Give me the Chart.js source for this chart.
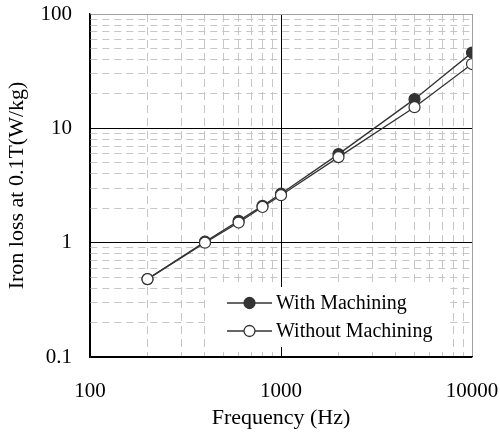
<!DOCTYPE html>
<html>
<head>
<meta charset="utf-8">
<script src="https://cdn.jsdelivr.net/npm/chart.js@4.4.1/dist/chart.umd.min.js"></script>
<style>
	html, body { margin: 0; padding: 0; background: #fff; }
	#wrap { width: 500px; height: 435px; }
</style>
</head>
<body>
<div id="wrap"><canvas id="chart"></canvas></div>
<script>
// data
const freqs = [200, 400, 600, 800, 1000, 2000, 5000, 10000];
const withMachining = [0.48, 1.02, 1.55, 2.1, 2.68, 5.95, 18, 46];
const withoutMachining = [0.48, 1.0, 1.5, 2.05, 2.6, 5.6, 15.3, 36.5];

// axis decades + minor steps
const xMajor = [100, 1000, 10000];
const yMajor = [0.1, 1, 10, 100];
const minorSteps = [2, 3, 4, 5, 6, 7, 8, 9];

const serif = '"Liberation Serif", "Times New Roman", serif';
const ink = '#333333';

// build decade + minor ticks for a log axis
function logTicks(majors) {
	const out = [];
	majors.forEach((m, i) => {
		out.push({ value: m, major: true });
		if (i < majors.length - 1) minorSteps.forEach(s => out.push({ value: m * s, major: false }));
	});
	return out;
}

const isMajor = (v, majors) => majors.some(m => Math.abs(v - m) / m < 1e-6);

function gridColor(ctx, majors) {
	const v = ctx.tick ? ctx.tick.value : null;
	if (v === null) return 'transparent';
	if (Math.abs(v - majors[majors.length - 1]) / v < 1e-6) return '#a0a0a0'; // far edge is grey
	return isMajor(v, majors) ? '#000' : '#c6c6c6';
}

// legend drawn inside the plot, white box behind
const innerLegend = {
	id: 'innerLegend',
	afterDatasetsDraw(chart) {
		const { ctx, chartArea } = chart;
		const x0 = chartArea.left + 137;
		const y0 = chartArea.top + 289;
		ctx.save();
		ctx.fillStyle = '#fff';
		ctx.fillRect(x0 - 22, y0 - 16, 245, 60);
		ctx.font = '20px ' + serif;
		ctx.textBaseline = 'middle';
		chart.data.datasets.forEach((ds, i) => {
			const y = y0 + i * 28;
			ctx.strokeStyle = ds.borderColor;
			ctx.lineWidth = 1.3;
			ctx.beginPath();
			ctx.moveTo(x0, y);
			ctx.lineTo(x0 + 45, y);
			ctx.stroke();
			ctx.beginPath();
			ctx.arc(x0 + 22.5, y, 5.5, 0, Math.PI * 2);
			ctx.fillStyle = ds.pointBackgroundColor;
			ctx.fill();
			ctx.strokeStyle = ds.pointBorderColor;
			ctx.stroke();
			ctx.fillStyle = '#000';
			ctx.fillText(ds.label, x0 + 49, y + 1);
		});
		ctx.restore();
	}
};

new Chart(document.getElementById('chart'), {
	type: 'line',
	data: {
		datasets: [{
			label: 'With Machining',
			data: freqs.map((f, i) => ({ x: f, y: withMachining[i] })),
			borderColor: ink,
			borderWidth: 1.3,
			pointRadius: 5.5,
			pointBackgroundColor: ink,
			pointBorderColor: ink,
			pointBorderWidth: 1.2,
			order: 1
		}, {
			label: 'Without Machining',
			data: freqs.map((f, i) => ({ x: f, y: withoutMachining[i] })),
			borderColor: ink,
			borderWidth: 1.3,
			pointRadius: 5.5,
			pointBackgroundColor: '#fff',
			pointBorderColor: ink,
			pointBorderWidth: 1.2,
			order: 0
		}]
	},
	options: {
		responsive: true,
		maintainAspectRatio: false,
		animation: false,
		layout: { padding: { left: 2, right: 28, top: 14, bottom: 4 } },
		plugins: { legend: { display: false }, tooltip: { enabled: false } },
		elements: { line: { tension: 0 } },
		scales: {
			x: {
				type: 'logarithmic',
				min: 100,
				max: 10000,
				afterBuildTicks: s => { s.ticks = logTicks(xMajor); },
				afterFit: s => { s.height = 74; },
				ticks: {
					autoSkip: false,
					maxRotation: 0,
					padding: 0,
					color: '#000',
					font: { family: serif, size: 21 },
					callback: v => isMajor(v, xMajor) ? String(v) : ''
				},
				grid: {
					drawTicks: true,
					tickLength: 22,
					tickColor: 'transparent',
					lineWidth: 1,
					color: c => gridColor(c, xMajor)
				},
				border: {
					color: '#000',
					width: 1.3,
					dash: c => (c.tick && !isMajor(c.tick.value, xMajor)) ? [8, 5] : []
				},
				title: {
					display: true,
					text: 'Frequency (Hz)',
					color: '#000',
					font: { family: serif, size: 22 },
					padding: { top: 1, bottom: 0 }
				}
			},
			y: {
				type: 'logarithmic',
				min: 0.1,
				max: 100,
				afterBuildTicks: s => { s.ticks = logTicks(yMajor); },
				afterFit: s => { s.width = 88; },
				ticks: {
					autoSkip: false,
					padding: 0,
					color: '#000',
					font: { family: serif, size: 21 },
					callback: v => isMajor(v, yMajor) ? String(v) : ''
				},
				grid: {
					drawTicks: true,
					tickLength: 18,
					tickColor: 'transparent',
					lineWidth: 1,
					color: c => gridColor(c, yMajor)
				},
				border: {
					color: '#000',
					width: 1.3,
					dash: c => (c.tick && !isMajor(c.tick.value, yMajor)) ? [7, 5] : []
				},
				title: {
					display: true,
					text: 'Iron loss at 0.1T(W/kg)',
					color: '#000',
					font: { family: serif, size: 22 },
					padding: { top: 2, bottom: 0 }
				}
			}
		}
	},
	plugins: [innerLegend]
});
</script>
</body>
</html>
